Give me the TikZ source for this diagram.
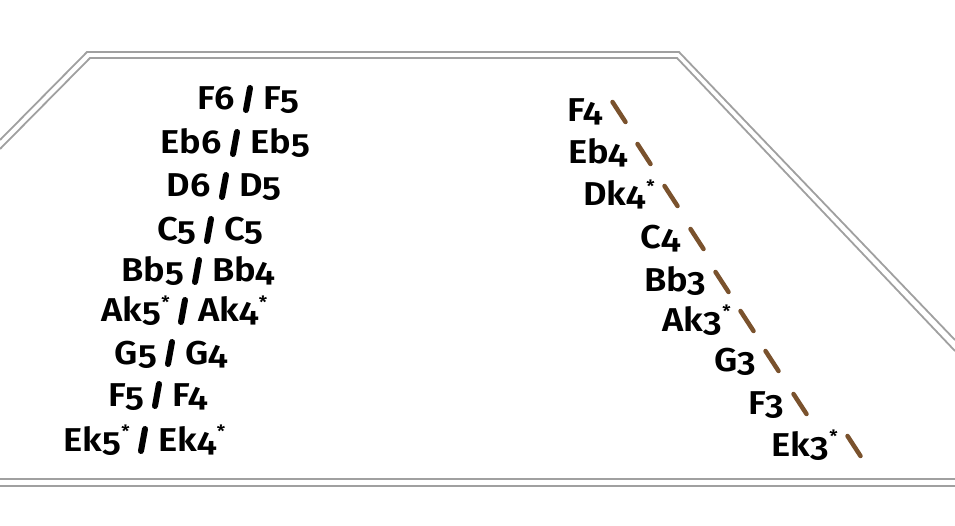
\documentclass[tikz,border=0pt]{standalone}
\usepackage{fontspec}
\setmainfont{Fira Sans SemiBold}[Numbers=OldStyle,FakeStretch=1.1]
\newcommand{\st}{\kern0.5pt\raisebox{0.42em}{\fontsize{17}{17}\selectfont *}}
\definecolor{framegray}{RGB}{160,160,160}
\definecolor{bowbrown}{RGB}{122,82,45}

\begin{document}
\begin{tikzpicture}[x=1pt,y=-1pt]
	\tikzstyle{every node}=[inner sep=0pt,font=\fontsize{33}{40}\selectfont]
	\tikzstyle{frameline}=[draw=framegray,line width=1.8pt]
	\tikzstyle{upbar}=[black,line width=6pt,line cap=round]
	\tikzstyle{downbar}=[bowbrown,line width=4.5pt,line cap=round]
	\useasboundingbox (0,0) rectangle (955,526);
	% frame
	\draw[frameline] (0,140) -- (87,52) -- (679,52) -- (955,340);
	\draw[frameline] (0,149) -- (90,58) -- (677,58) -- (955,351);
	\draw[frameline] (0,479) -- (955,479);
	\draw[frameline] (0,486) -- (955,486);
	% left column
	\foreach \sx/\sy/\lo/\hi [count=\i] in {248/99/F6/F5, 235/143/Eb6/Eb5,
			224/186/D6/D5, 209/230/C5/C5, 197/271/Bb5/Bb4,
			183/311/{Ak5\st}/{Ak4\st}, 170/353/G5/G4, 157/395/F5/F4,
			143/440/{Ek5\st}/{Ek4\st}} {
		\coordinate (t\i) at (\sx+2,\sy-11);
		\coordinate (b\i) at (\sx-2,\sy+11);
		\draw[upbar] (t\i) -- (b\i);
		\node[anchor=base east] (lo\i) at (\sx-13,\sy+11) {\lo};
		\node[anchor=base west] (hi\i) at (\sx+15,\sy+11) {\hi};
	}
	% right column
	\foreach \sx/\sy/\name [count=\i] in {619/112/F4, 644/154/Eb4,
			671/196/{Dk4\st}, 697/239/C4, 722/282/Bb3, 747/321/{Ak3\st},
			772/361/G3, 800/404/F3, 854/446/{Ek3\st}} {
		\coordinate (u\i) at (\sx-6.5,\sy-10);
		\coordinate (d\i) at (\sx+6.5,\sy+10);
		\draw[downbar] (u\i) -- (d\i);
		\node[anchor=base east] (n\i) at (\sx-16,\sy+10) {\name};
	}
\end{tikzpicture}
\end{document}
